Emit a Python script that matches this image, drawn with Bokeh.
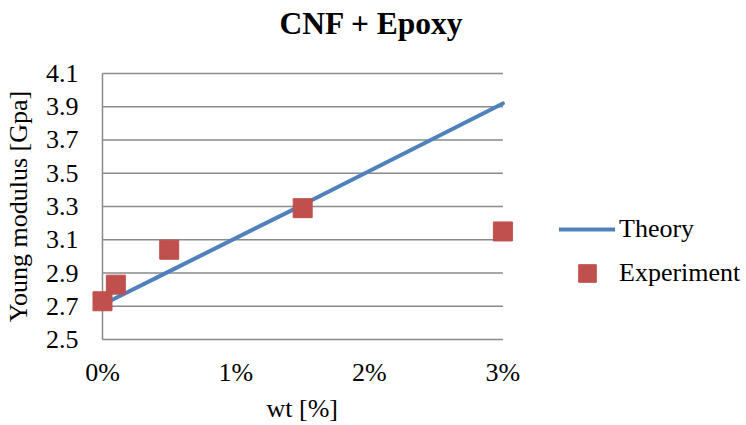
from bokeh.plotting import figure
from bokeh.models import Range1d, FixedTicker, Legend, LegendItem, Title
from bokeh.embed import file_html
from bokeh.resources import INLINE

# ---- data ----
wt = [0.0, 0.1, 0.5, 1.5, 3.0]
theory = [2.71, 2.75, 2.91, 3.31, 3.92]
experiment = [2.73, 2.83, 3.04, 3.29, 3.15]

x_ticks = [0, 1, 2, 3]
x_tick_labels = ["0%", "1%", "2%", "3%"]
y_ticks = [2.5, 2.7, 2.9, 3.1, 3.3, 3.5, 3.7, 3.9, 4.1]
y_tick_labels = ["2.5", "2.7", "2.9", "3.1", "3.3", "3.5", "3.7", "3.9", "4.1"]

FONT = "Liberation Serif"
GRID = "#8a8a8a"
BLUE = "#4F81BD"
RED = "#C0504D"

# frame spans the whole width to the right so the legend can sit in it;
# gridlines are drawn only over the data extent
p = figure(width=746, height=425, output_backend="svg", toolbar_location=None,
           x_range=Range1d(-0.0898, 4.8254), y_range=Range1d(2.482, 4.118),
           min_border_left=89, min_border_right=0,
           min_border_top=70, min_border_bottom=83)
p.title_location = None

p.outline_line_color = None
p.xgrid.visible = False
p.ygrid.visible = False
p.background_fill_color = "white"
p.border_fill_color = "white"

p.segment(x0=x_ticks[0], x1=x_ticks[-1], y0=y_ticks, y1=y_ticks,
          line_color=GRID, line_width=1.5)
p.segment(x0=x_ticks[0], x1=x_ticks[0], y0=y_ticks[0], y1=y_ticks[-1],
          line_color=GRID, line_width=1.5)

r_theory = p.line(wt, theory, line_width=4, line_color=BLUE, line_cap="round")
r_exp = p.scatter(wt, experiment, marker="square", size=19,
                  fill_color=RED, line_color=RED)

for ax in (p.xaxis, p.yaxis):
    ax.axis_line_color = None
    ax.major_tick_line_color = None
    ax.minor_tick_line_color = None
    ax.major_tick_out = 0
    ax.major_tick_in = 0
    ax.major_label_text_font = FONT
    ax.major_label_text_font_size = "26px"
    ax.major_label_text_color = "black"
    ax.axis_label_text_font = FONT
    ax.axis_label_text_font_size = "26px"
    ax.axis_label_text_font_style = "normal"
    ax.axis_label_text_color = "black"

p.xaxis.ticker = FixedTicker(ticks=x_ticks)
p.xaxis.major_label_overrides = dict(zip(x_ticks, x_tick_labels))
p.xaxis.major_label_standoff = 15

p.yaxis.ticker = FixedTicker(ticks=y_ticks)
p.yaxis.major_label_overrides = dict(zip(y_ticks, y_tick_labels))
p.yaxis.axis_label = "Young modulus [Gpa]"
p.yaxis.major_label_standoff = 12
p.yaxis.axis_label_standoff = 10

# x axis title, positioned under the data extent
xtitle = Title(text="wt [%]", text_font=FONT, text_font_size="26px",
               text_font_style="normal", text_color="black",
               align="left", offset=176, standoff=4)
p.add_layout(xtitle, "below")

# spacer between frame and the chart title
spacer = Title(text=" ", text_font_size="1px", standoff=27)
p.add_layout(spacer, "above")
main_title = Title(text="CNF + Epoxy", text_font=FONT, text_font_size="31.5px",
                   text_font_style="bold", text_color="black",
                   align="left", offset=189, standoff=0)
p.add_layout(main_title, "above")

legend = Legend(items=[LegendItem(label="Theory", renderers=[r_theory]),
                       LegendItem(label="Experiment", renderers=[r_exp])],
                location=(469, 47), glyph_width=56, glyph_height=44,
                spacing=0, padding=0, margin=0, label_standoff=4,
                label_text_font=FONT, label_text_font_size="26px",
                label_text_color="black",
                border_line_color=None, background_fill_alpha=0)
p.add_layout(legend, "center")

open("out.html", "w").write(file_html(p, INLINE))
